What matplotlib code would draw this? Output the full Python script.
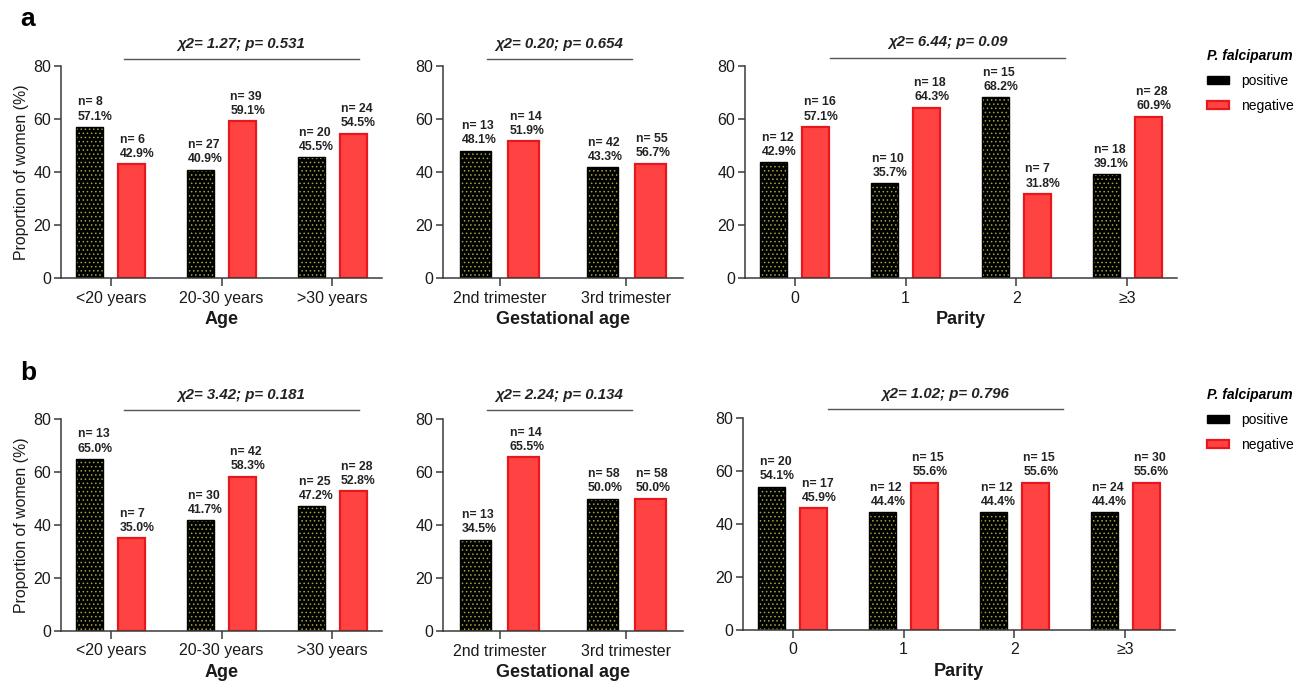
import matplotlib
matplotlib.use("Agg")
import matplotlib.pyplot as plt
import matplotlib.patches as mpatches
import numpy as np

plt.rcParams['font.family'] = ['Liberation Sans', 'DejaVu Sans']
plt.rcParams['hatch.linewidth'] = 0.6

# ---------------- data ----------------
age_cats = ["<20 years", "20-30 years", ">30 years"]
gest_cats = ["2nd trimester", "3rd trimester"]
parity_cats = ["0", "1", "2", "≥3"]

# panel a
a_age_pos = [57.1, 40.9, 45.5]
a_age_neg = [42.9, 59.1, 54.5]
a_age_pos_n = [8, 27, 20]
a_age_neg_n = [6, 39, 24]
a_age_pos_pct = ["57.1%", "40.9%", "45.5%"]
a_age_neg_pct = ["42.9%", "59.1%", "54.5%"]

a_gest_pos = [48.1, 41.9]
a_gest_neg = [51.7, 43.2]
a_gest_pos_n = [13, 42]
a_gest_neg_n = [14, 55]
a_gest_pos_pct = ["48.1%", "43.3%"]
a_gest_neg_pct = ["51.9%", "56.7%"]

a_par_pos = [43.8, 35.7, 68.2, 39.1]
a_par_neg = [57.1, 64.3, 31.8, 60.9]
a_par_pos_n = [12, 10, 15, 18]
a_par_neg_n = [16, 18, 7, 28]
a_par_pos_pct = ["42.9%", "35.7%", "68.2%", "39.1%"]
a_par_neg_pct = ["57.1%", "64.3%", "31.8%", "60.9%"]

# panel b
b_age_pos = [65.0, 41.7, 47.2]
b_age_neg = [35.0, 58.3, 52.8]
b_age_pos_n = [13, 30, 25]
b_age_neg_n = [7, 42, 28]
b_age_pos_pct = ["65.0%", "41.7%", "47.2%"]
b_age_neg_pct = ["35.0%", "58.3%", "52.8%"]

b_gest_pos = [34.5, 50.0]
b_gest_neg = [65.5, 50.0]
b_gest_pos_n = [13, 58]
b_gest_neg_n = [14, 58]
b_gest_pos_pct = ["34.5%", "50.0%"]
b_gest_neg_pct = ["65.5%", "50.0%"]

b_par_pos = [54.1, 44.4, 44.4, 44.4]
b_par_neg = [45.9, 55.6, 55.6, 55.6]
b_par_pos_n = [20, 12, 12, 24]
b_par_neg_n = [17, 15, 15, 30]
b_par_pos_pct = ["54.1%", "44.4%", "44.4%", "44.4%"]
b_par_neg_pct = ["45.9%", "55.6%", "55.6%", "55.6%"]

stats_a = ["χ2= 1.27; p= 0.531", "χ2= 0.20; p= 0.654", "χ2= 6.44; p= 0.09"]
stats_b = ["χ2= 3.42; p= 0.181", "χ2= 2.24; p= 0.134", "χ2= 1.02; p= 0.796"]
xlabels = ["Age", "Gestational age", "Parity"]

# ---------------- style ----------------
W, H = 1301, 685
fig = plt.figure(figsize=(W / 100, H / 100), dpi=100)

RED_FACE = '#FF4343'
RED_EDGE = '#E8171C'
DOT = '#A4A43C'
AX_COL = '#3a3a3a'

def px_axes(x0, x1, ytop, ybot):
    return fig.add_axes([x0 / W, 1 - ybot / H, (x1 - x0) / W, (ybot - ytop) / H])

def draw_panel(ax, cats, pos, neg, pos_n, neg_n, pos_pct, neg_pct, stat,
               line_x, line_y, text_y, xlabel, ylabel=False):
    x = np.arange(len(cats))
    off, w = 0.19, 0.245
    ax.bar(x - off, pos, w, color='black', edgecolor=DOT, hatch='....', linewidth=0)
    ax.bar(x - off, pos, w, fill=False, edgecolor='black', linewidth=1)
    ax.bar(x + off, neg, w, color=RED_FACE, edgecolor=RED_EDGE, linewidth=1.6)
    for xs, hs, ns, ps in ((x - off, pos, pos_n, pos_pct), (x + off, neg, neg_n, neg_pct)):
        for xi, h, n, p in zip(xs, hs, ns, ps):
            ax.annotate(f"n= {n}\n{p}", (xi - w / 2, h), xytext=(1, 3),
                        textcoords='offset points', ha='left', va='bottom',
                        fontsize=8.8, fontweight='bold', color='#222222',
                        linespacing=1.25)
    ax.set_xlim(-0.45, len(cats) - 1 + 0.45)
    ax.set_ylim(0, 80)
    ax.set_yticks([0, 20, 40, 60, 80])
    ax.set_xticks(x)
    ax.set_xticklabels(cats)
    for s in ['top', 'right']:
        ax.spines[s].set_visible(False)
    for s in ['left', 'bottom']:
        ax.spines[s].set_color(AX_COL)
        ax.spines[s].set_linewidth(1.1)
    ax.tick_params(axis='both', colors=AX_COL, labelcolor='#1a1a1a', labelsize=11.5,
                   direction='out', width=1.1)
    ax.tick_params(axis='y', length=5, pad=2)
    ax.tick_params(axis='x', length=6, pad=3)
    ax.set_xlabel(xlabel, fontsize=13, fontweight='bold', color='#1a1a1a', labelpad=4)
    if ylabel:
        ax.set_ylabel("Proportion of women (%)", fontsize=11.4, color='#1a1a1a', labelpad=3)
    ax.plot(line_x, [line_y, line_y], transform=ax.transAxes, color='#555555',
            lw=1.0, clip_on=False)
    ax.text(np.mean(line_x), text_y, stat, transform=ax.transAxes, ha='center',
            va='center', fontsize=10.8, fontweight='bold', fontstyle='italic',
            color='#222222')

# top row
ax1 = px_axes(61, 382, 66, 278)
draw_panel(ax1, age_cats, a_age_pos, a_age_neg, a_age_pos_n, a_age_neg_n,
           a_age_pos_pct, a_age_neg_pct, stats_a[0], [0.196, 0.928], 1.033, 1.104,
           xlabels[0], ylabel=True)
ax2 = px_axes(443, 683, 66, 278)
draw_panel(ax2, gest_cats, a_gest_pos, a_gest_neg, a_gest_pos_n, a_gest_neg_n,
           a_gest_pos_pct, a_gest_neg_pct, stats_a[1], [0.183, 0.788], 1.033, 1.104,
           xlabels[1])
ax3 = px_axes(745, 1177, 66, 278)
draw_panel(ax3, parity_cats, a_par_pos, a_par_neg, a_par_pos_n, a_par_neg_n,
           a_par_pos_pct, a_par_neg_pct, stats_a[2], [0.197, 0.741], 1.040, 1.111,
           xlabels[2])

# bottom row
bx1 = px_axes(61, 382, 419, 631)
draw_panel(bx1, age_cats, b_age_pos, b_age_neg, b_age_pos_n, b_age_neg_n,
           b_age_pos_pct, b_age_neg_pct, stats_b[0], [0.196, 0.928], 1.042, 1.113,
           xlabels[0], ylabel=True)
bx2 = px_axes(443, 683, 419, 631)
draw_panel(bx2, gest_cats, b_gest_pos, b_gest_neg, b_gest_pos_n, b_gest_neg_n,
           b_gest_pos_pct, b_gest_neg_pct, stats_b[1], [0.183, 0.788], 1.042, 1.113,
           xlabels[1])
bx3 = px_axes(743, 1175, 418, 630)
draw_panel(bx3, parity_cats, b_par_pos, b_par_neg, b_par_pos_n, b_par_neg_n,
           b_par_pos_pct, b_par_neg_pct, stats_b[2], [0.197, 0.741], 1.042, 1.113,
           xlabels[2])

# panel letters
fig.text(20 / W, 1 - 19 / H, "a", fontsize=19, fontweight='bold', va='center', ha='left')
fig.text(20 / W, 1 - 373 / H, "b", fontsize=19, fontweight='bold', va='center', ha='left')

# legends
def add_legend(ytop):
    handles = [mpatches.Patch(facecolor='black', edgecolor='black', label='positive'),
               mpatches.Patch(facecolor=RED_FACE, edgecolor=RED_EDGE, linewidth=1.6,
                              label='negative')]
    leg = fig.legend(handles=handles, loc='upper left',
                     bbox_to_anchor=(1207 / W, 1 - ytop / H), frameon=False,
                     title='P. falciparum', fontsize=10, handlelength=1.6,
                     handleheight=0.5, handletextpad=0.85, labelspacing=0.8,
                     alignment='left', borderpad=0, borderaxespad=0)
    leg.get_title().set_fontweight('bold')
    leg.get_title().set_fontstyle('italic')
    leg.get_title().set_fontsize(10)
    return leg

add_legend(49)
add_legend(388)

fig.savefig("out.png", dpi=100)
